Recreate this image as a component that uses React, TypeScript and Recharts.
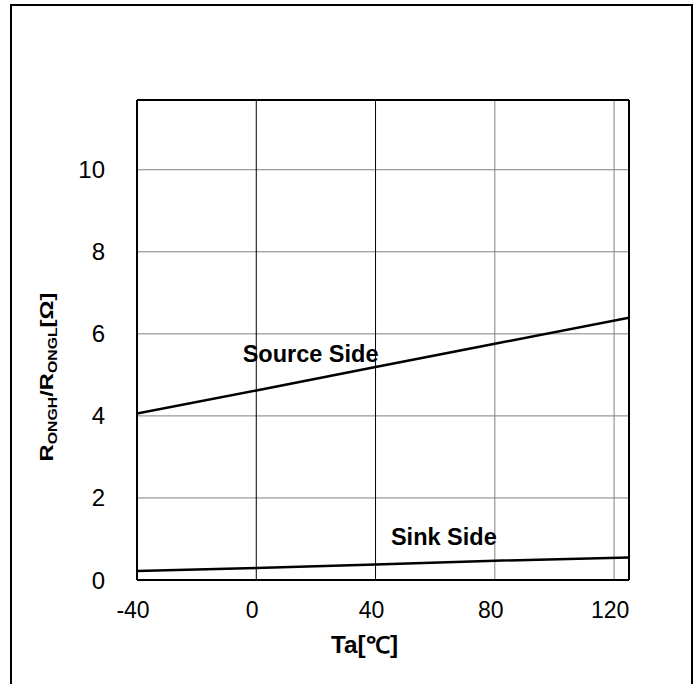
import React from 'react';
import { LineChart, Line, XAxis, YAxis, CartesianGrid, ReferenceLine, ReferenceDot } from 'recharts';

const temps = [-40, 0, 40, 80, 125];
const sourceSide = [4.06, 4.62, 5.19, 5.76, 6.39];
const sinkSide = [0.22, 0.29, 0.38, 0.47, 0.55];
const xTicks = [-40, 0, 40, 80, 120];
const yTicks = [0, 2, 4, 6, 8, 10];
const xDomain = [-40, 125];
const yDomain = [0, 11.7];
const annotations = [
  { text: 'Source Side', x: 18.2, y: 5.52 },
  { text: 'Sink Side', x: 62.9, y: 1.05 },
];

const data = temps.map((t, i) => ({ t, source: sourceSide[i], sink: sinkSide[i] }));

const FONT = '"Liberation Sans", Arial, Helvetica, sans-serif';

const XTick = (props: any) => {
  const { x, y, payload } = props;
  return (
    <text x={x - 4} y={y} dy="0.71em" textAnchor="middle" fontSize={23} fontFamily={FONT} fill="#000">
      {payload.value}
    </text>
  );
};

const YTick = (props: any) => {
  const { x, y, payload } = props;
  return (
    <text x={x} y={y} dy="0.355em" textAnchor="end" fontSize={24} fontFamily={FONT} fill="#000">
      {payload.value}
    </text>
  );
};

const YTitle = (props: any) => {
  const vb = props.viewBox || { x: 77, y: 100, width: 60, height: 480 };
  const cx = vb.x - 24;
  const cy = vb.y + vb.height / 2 + 37;
  return (
    <text
      x={cx}
      y={cy}
      transform={`rotate(-90, ${cx}, ${cy})`}
      textAnchor="middle"
      fontFamily={FONT}
      fontWeight="bold"
      fontSize={18}
      fill="#000"
      textLength={169}
      lengthAdjust="spacingAndGlyphs"
    >
      <tspan>R</tspan>
      <tspan fontSize={12} dy={4}>ONGH</tspan>
      <tspan dy={-4}>/R</tspan>
      <tspan fontSize={12} dy={4}>ONGL</tspan>
      <tspan dy={-4}>[Ω]</tspan>
    </text>
  );
};

const XTitle = (props: any) => {
  const vb = props.viewBox || { x: 137, y: 580, width: 492, height: 60 };
  const cx = vb.x + vb.width / 2 - 18.5;
  const cy = vb.y + 73;
  return (
    <text
      x={cx}
      y={cy}
      textAnchor="middle"
      fontFamily={FONT}
      fontWeight="bold"
      fontSize={23}
      fill="#000"
      textLength={67}
      lengthAdjust="spacingAndGlyphs"
    >
      Ta[℃]
    </text>
  );
};

const makeAnnot = (text: string) => (props: any) => (
  <text
    x={props.cx}
    y={props.cy}
    dy="0.36em"
    textAnchor="middle"
    fontFamily={FONT}
    fontWeight="bold"
    fontSize={23.5}
    fill="#000"
  >
    {text}
  </text>
);

const vGridColor = (v: number) => (v === 0 || v === 40 ? '#000000' : '#808080');

export default function App() {
  return (
    <div style={{ position: 'absolute', left: 0, top: 0, width: 699, height: 684, overflow: 'hidden', background: '#fff' }}>
      <div
        style={{
          position: 'absolute',
          left: 10,
          top: 4,
          width: 679,
          height: 720,
          border: '2px solid #000',
        }}
      />
      <div style={{ position: 'absolute', left: 0, top: 0 }}>
        <LineChart width={699} height={684} data={data} margin={{ top: 100, right: 70, bottom: 44, left: 77 }}>
          <CartesianGrid horizontal={true} vertical={false} stroke="#808080" strokeWidth={1} />
          {xTicks.slice(1).map((v) => (
            <ReferenceLine key={`vx${v}`} x={v} stroke={vGridColor(v)} strokeWidth={1} />
          ))}
          <XAxis
            type="number"
            dataKey="t"
            domain={xDomain}
            ticks={xTicks}
            allowDataOverflow
            height={60}
            tickSize={0}
            tickMargin={22}
            tickLine={false}
            axisLine={{ stroke: '#000', strokeWidth: 2 }}
            tick={<XTick />}
            label={<XTitle />}
          />
          <YAxis
            type="number"
            domain={yDomain}
            ticks={yTicks}
            allowDataOverflow
            width={60}
            tickSize={0}
            tickMargin={32}
            tickLine={false}
            axisLine={{ stroke: '#000', strokeWidth: 2 }}
            tick={<YTick />}
            label={<YTitle />}
          />
          <ReferenceLine y={yDomain[1]} stroke="#000" strokeWidth={2} />
          <ReferenceLine x={xDomain[1]} stroke="#000" strokeWidth={2} />
          <Line type="linear" dataKey="source" stroke="#000" strokeWidth={2.5} dot={false} isAnimationActive={false} />
          <Line type="linear" dataKey="sink" stroke="#000" strokeWidth={2.5} dot={false} isAnimationActive={false} />
          {annotations.map((a) => (
            <ReferenceDot key={a.text} x={a.x} y={a.y} r={0} shape={makeAnnot(a.text)} />
          ))}
        </LineChart>
      </div>
    </div>
  );
}
